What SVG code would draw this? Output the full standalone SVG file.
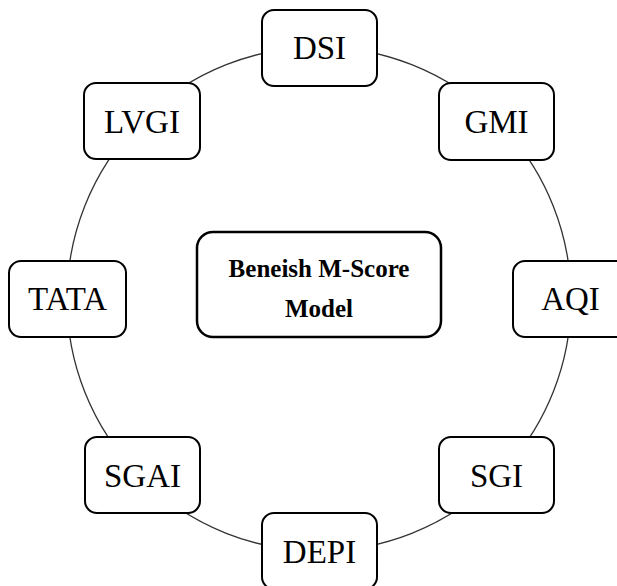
<svg xmlns="http://www.w3.org/2000/svg" width="617" height="586" viewBox="0 0 617 586">
<style>
.node rect{fill:#fff;stroke:#000;stroke-width:2}
.node text{font-family:"Liberation Serif","Times New Roman",serif;font-size:33px;fill:#000;text-anchor:middle}
.center rect{fill:#fff;stroke:#000;stroke-width:2.5}
.center text{font-family:"Liberation Serif","Times New Roman",serif;font-size:25px;font-weight:bold;fill:#000;text-anchor:middle}
.conn{fill:none;stroke:#333;stroke-width:1.3}
</style>
<rect width="617" height="586" fill="#fff"/>
<g id="connectors">
<circle class="conn" cx="319" cy="299" r="252"/>
</g>
<g id="center" class="center">
<rect x="197" y="232" width="244" height="105" rx="16"/>
<text x="319" y="277">Beneish M-Score</text>
<text x="319" y="317">Model</text>
</g>
<g id="DSI" class="node"><rect x="262" y="10" width="115" height="76" rx="12"/><text x="319.5" y="59">DSI</text></g>
<g id="GMI" class="node"><rect x="439" y="83" width="115" height="77" rx="12"/><text x="496.5" y="133">GMI</text></g>
<g id="AQI" class="node"><rect x="513" y="261" width="115" height="76" rx="12"/><text x="570.5" y="310">AQI</text></g>
<g id="SGI" class="node"><rect x="439" y="437" width="115" height="76" rx="12"/><text x="496.5" y="487">SGI</text></g>
<g id="DEPI" class="node"><rect x="262" y="513" width="115" height="76" rx="12"/><text x="319.5" y="563">DEPI</text></g>
<g id="SGAI" class="node"><rect x="85" y="437" width="115" height="76" rx="12"/><text x="142.5" y="487">SGAI</text></g>
<g id="TATA" class="node"><rect x="9" y="261" width="117" height="76" rx="12"/><text x="67.5" y="310">TATA</text></g>
<g id="LVGI" class="node"><rect x="84" y="83" width="116" height="76" rx="12"/><text x="142" y="133">LVGI</text></g>
</svg>
